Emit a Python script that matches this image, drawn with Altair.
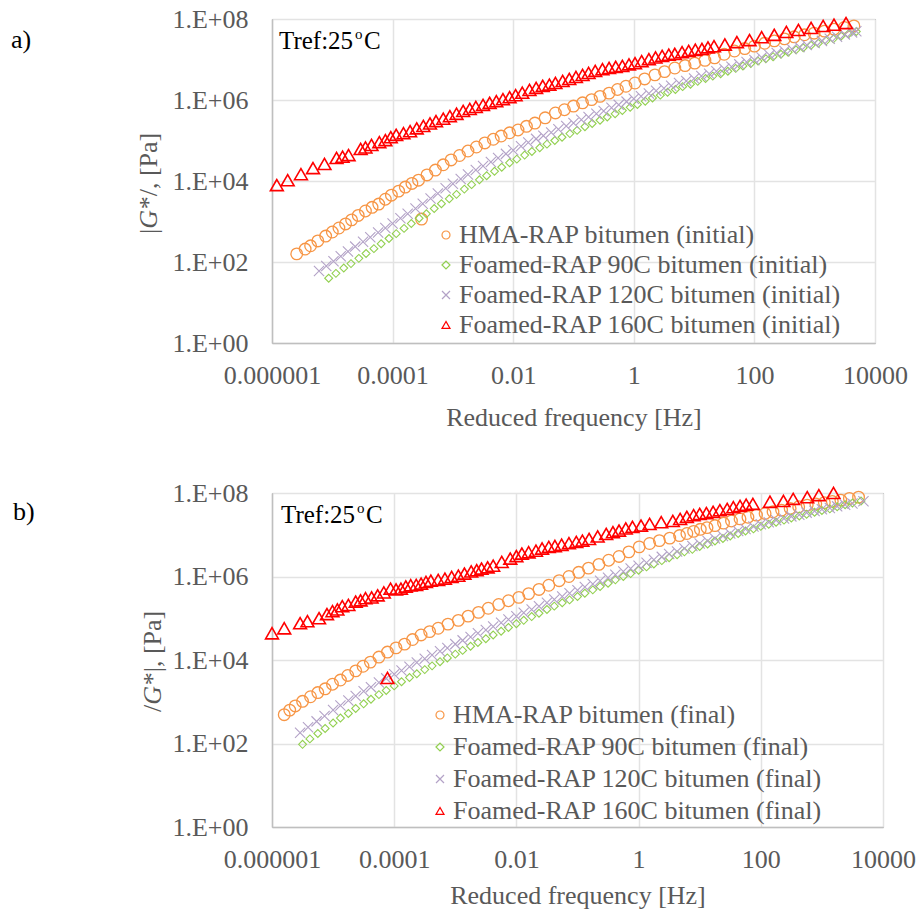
import altair as alt
import pandas as pd
import numpy as np

FONT = "Liberation Serif"
GREY = "#595959"

# ---------------- values (log10 units) ----------------
# panel a) initial
a_hma_logf = [-5.59,-5.45,-5.36,-5.24,-5.11,-5.00,-4.89,-4.78,-4.68,-4.57,-4.45,-4.34,-4.23,-4.12,-4.02,-3.90,-3.79,-3.68,-3.57,-3.43,
              -3.29,-3.16,-3.03,-2.89,-2.75,-2.61,-2.47,-2.33,-2.20,-2.06,-1.92,-1.78,-1.64,-1.47,-1.30,-1.15,-1.00,-0.85,-0.70,-0.56,
              -0.41,-0.27,-0.13,0.02,0.18,0.35,0.51,0.68,0.85,1.01,1.18,1.34,1.50,1.67,1.84,2.00,2.17,2.33,2.50,2.66,
              2.83,2.99,3.16,3.32,3.49,3.65,-3.52]
a_hma_logG = [2.20,2.32,2.40,2.52,2.64,2.74,2.84,2.94,3.04,3.15,3.26,3.35,3.43,3.55,3.65,3.75,3.85,3.94,4.02,4.15,
              4.27,4.40,4.52,4.63,4.74,4.84,4.94,5.03,5.11,5.19,5.26,5.35,5.43,5.56,5.68,5.76,5.85,5.93,6.01,6.09,
              6.17,6.26,6.34,6.42,6.52,6.62,6.70,6.79,6.85,6.91,6.98,7.04,7.13,7.21,7.27,7.33,7.40,7.46,7.51,7.56,
              7.61,7.65,7.70,7.75,7.79,7.83,3.06]

a_90_logf = [-5.06,-4.94,-4.81,-4.69,-4.56,-4.44,-4.31,-4.19,-4.06,-3.94,-3.81,-3.69,-3.56,-3.44,-3.31,-3.19,-3.06,-2.94,-2.81,-2.69,
             -2.56,-2.44,-2.31,-2.19,-2.06,-1.94,-1.81,-1.69,-1.56,-1.44,-1.31,-1.19,-1.06,-0.94,-0.81,-0.69,-0.56,-0.44,-0.31,-0.19,
             -0.06,0.06,0.19,0.31,0.44,0.56,0.69,0.81,0.94,1.06,1.19,1.31,1.44,1.56,1.69,1.81,1.94,2.06,2.19,2.31,
             2.44,2.56,2.69,2.81,2.94,3.06,3.19,3.31,3.44,3.56,3.69]
a_90_logG = [1.60,1.72,1.85,1.96,2.09,2.21,2.33,2.45,2.58,2.70,2.83,2.95,3.08,3.19,3.32,3.44,3.56,3.67,3.80,3.91,
             4.03,4.13,4.24,4.34,4.45,4.54,4.64,4.73,4.82,4.91,5.00,5.08,5.17,5.25,5.34,5.42,5.50,5.58,5.66,5.74,
             5.82,5.89,5.97,6.05,6.12,6.19,6.26,6.33,6.39,6.46,6.53,6.59,6.65,6.71,6.78,6.84,6.90,6.96,7.02,7.07,
             7.13,7.18,7.24,7.29,7.35,7.40,7.46,7.51,7.58,7.63,7.69]

a_120_logf = [-5.22,-5.10,-4.98,-4.86,-4.74,-4.62,-4.49,-4.37,-4.24,-4.12,-4.00,-3.87,-3.75,-3.62,-3.50,-3.37,-3.25,-3.12,-3.00,-2.87,
              -2.75,-2.62,-2.50,-2.37,-2.25,-2.12,-2.00,-1.87,-1.75,-1.62,-1.50,-1.37,-1.25,-1.12,-1.00,-0.87,-0.75,-0.62,-0.50,-0.37,
              -0.25,-0.12,0.00,0.12,0.25,0.37,0.50,0.62,0.75,0.87,1.00,1.12,1.25,1.37,1.50,1.62,1.75,1.87,2.00,2.12,
              2.25,2.37,2.50,2.62,2.75,2.87,3.00,3.12,3.25,3.37,3.50,3.62,3.69]
a_120_logG = [1.78,1.90,2.02,2.14,2.26,2.38,2.50,2.61,2.73,2.84,2.95,3.08,3.19,3.32,3.44,3.57,3.69,3.82,3.93,4.05,
              4.16,4.27,4.37,4.47,4.57,4.67,4.76,4.86,4.95,5.04,5.12,5.20,5.28,5.36,5.43,5.51,5.58,5.66,5.73,5.81,
              5.88,5.96,6.03,6.09,6.16,6.23,6.29,6.35,6.42,6.47,6.53,6.59,6.65,6.71,6.77,6.82,6.88,6.94,6.99,7.05,
              7.11,7.16,7.21,7.26,7.31,7.36,7.41,7.46,7.51,7.56,7.62,7.67,7.70]

a_160_logf = [-5.92,-5.74,-5.52,-5.32,-5.13,-4.93,-4.83,-4.73,-4.53,-4.45,-4.35,-4.22,-4.12,-4.03,-3.94,-3.82,-3.71,-3.60,-3.49,-3.38,
              -3.28,-3.16,-3.05,-2.94,-2.83,-2.72,-2.62,-2.50,-2.39,-2.28,-2.17,-2.06,-1.96,-1.85,-1.73,-1.62,-1.51,-1.40,-1.30,-1.18,
              -1.07,-0.96,-0.85,-0.75,-0.64,-0.52,-0.41,-0.30,-0.19,-0.08,0.02,0.13,0.25,0.36,0.47,0.58,0.68,0.80,0.91,1.02,
              1.13,1.23,1.33,1.51,1.71,1.92,2.12,2.33,2.53,2.73,2.94,3.14,3.32,3.52]
a_160_logG = [3.90,4.02,4.17,4.32,4.42,4.57,4.60,4.64,4.79,4.83,4.89,4.96,5.01,5.08,5.14,5.18,5.23,5.30,5.36,5.42,
              5.48,5.54,5.60,5.66,5.73,5.78,5.83,5.88,5.93,5.97,6.02,6.07,6.12,6.18,6.25,6.30,6.35,6.38,6.42,6.47,
              6.52,6.57,6.62,6.67,6.72,6.76,6.79,6.82,6.84,6.88,6.91,6.96,7.01,7.05,7.09,7.12,7.14,7.18,7.21,7.24,
              7.26,7.30,7.33,7.37,7.43,7.48,7.55,7.61,7.68,7.73,7.78,7.83,7.86,7.90]

# panel b) final
b_hma_logf = [-5.80,-5.71,-5.62,-5.50,-5.37,-5.25,-5.13,-5.01,-4.88,-4.76,-4.63,-4.51,-4.39,-4.25,-4.11,-3.97,-3.83,-3.70,-3.56,-3.42,
              -3.28,-3.12,-2.95,-2.79,-2.62,-2.46,-2.29,-2.13,-1.96,-1.80,-1.63,-1.47,-1.30,-1.14,-0.98,-0.82,-0.65,-0.49,-0.32,-0.16,
              0.01,0.18,0.34,0.51,0.67,0.79,0.90,1.01,1.12,1.25,1.39,1.52,1.66,1.79,1.93,2.07,2.20,2.34,2.48,2.62,
              2.76,2.90,3.04,3.17,3.31,3.45,3.60]
b_hma_logG = [2.69,2.80,2.90,3.01,3.12,3.22,3.31,3.42,3.52,3.63,3.74,3.85,3.95,4.07,4.19,4.29,4.38,4.49,4.60,4.68,
              4.76,4.86,4.95,5.05,5.14,5.24,5.33,5.42,5.50,5.59,5.69,5.79,5.90,6.00,6.10,6.20,6.29,6.39,6.48,6.59,
              6.71,6.79,6.86,6.92,6.98,7.03,7.08,7.13,7.17,7.22,7.28,7.33,7.38,7.42,7.47,7.51,7.55,7.59,7.63,7.67,
              7.71,7.74,7.77,7.80,7.83,7.87,7.90]

b_90_logf = [-5.50,-5.38,-5.25,-5.13,-5.00,-4.88,-4.75,-4.63,-4.50,-4.38,-4.25,-4.13,-4.00,-3.88,-3.75,-3.63,-3.50,-3.38,-3.25,-3.13,
             -3.00,-2.88,-2.75,-2.63,-2.50,-2.38,-2.25,-2.13,-2.00,-1.88,-1.75,-1.63,-1.50,-1.38,-1.25,-1.13,-1.00,-0.88,-0.75,-0.63,
             -0.50,-0.38,-0.25,-0.13,0.00,0.13,0.25,0.38,0.50,0.63,0.75,0.88,1.00,1.13,1.25,1.38,1.50,1.63,1.75,1.88,
             2.00,2.13,2.25,2.38,2.50,2.63,2.75,2.88,3.00,3.13,3.25,3.38,3.50,3.64]
b_90_logG = [1.98,2.11,2.24,2.36,2.49,2.61,2.72,2.84,2.95,3.06,3.17,3.27,3.38,3.48,3.58,3.67,3.77,3.86,3.96,4.05,
             4.14,4.23,4.33,4.42,4.51,4.60,4.69,4.78,4.87,4.95,5.04,5.12,5.21,5.29,5.37,5.44,5.52,5.60,5.68,5.76,
             5.84,5.92,6.00,6.07,6.15,6.23,6.30,6.38,6.45,6.52,6.59,6.65,6.72,6.78,6.85,6.91,6.97,7.03,7.09,7.14,
             7.20,7.25,7.30,7.35,7.40,7.45,7.49,7.54,7.58,7.62,7.67,7.72,7.76,7.81]

b_120_logf = [-5.54,-5.41,-5.27,-5.14,-5.00,-4.88,-4.75,-4.63,-4.50,-4.38,-4.25,-4.13,-4.00,-3.88,-3.75,-3.63,-3.50,-3.38,-3.25,-3.13,
              -3.00,-2.88,-2.75,-2.63,-2.50,-2.38,-2.25,-2.13,-2.00,-1.88,-1.75,-1.63,-1.50,-1.38,-1.25,-1.13,-1.00,-0.88,-0.75,-0.63,
              -0.50,-0.38,-0.25,-0.13,0.00,0.13,0.25,0.38,0.50,0.63,0.75,0.88,1.00,1.13,1.25,1.38,1.50,1.63,1.75,1.88,
              2.00,2.13,2.25,2.38,2.50,2.63,2.75,2.88,3.00,3.13,3.25,3.38,3.50,3.68]
b_120_logG = [2.26,2.39,2.53,2.66,2.80,2.91,3.03,3.14,3.25,3.35,3.46,3.56,3.66,3.75,3.84,3.94,4.03,4.12,4.21,4.29,
              4.38,4.47,4.55,4.64,4.72,4.80,4.89,4.97,5.05,5.13,5.21,5.29,5.37,5.45,5.52,5.60,5.67,5.75,5.82,5.90,
              5.97,6.04,6.12,6.19,6.26,6.33,6.40,6.47,6.54,6.60,6.67,6.73,6.79,6.85,6.91,6.97,7.03,7.09,7.14,7.20,
              7.25,7.30,7.35,7.39,7.44,7.48,7.53,7.57,7.61,7.64,7.68,7.72,7.75,7.80]

b_160_logf = [-6.00,-5.80,-5.54,-5.42,-5.23,-5.10,-5.01,-4.93,-4.85,-4.75,-4.63,-4.55,-4.47,-4.37,-4.27,-4.17,-4.06,-3.97,-3.89,-3.81,
              -3.73,-3.64,-3.56,-3.48,-3.40,-3.28,-3.17,-3.06,-2.95,-2.85,-2.74,-2.65,-2.57,-2.47,-2.38,-2.24,-2.10,-2.00,-1.91,-1.80,
              -1.68,-1.58,-1.47,-1.37,-1.26,-1.14,-1.02,-0.92,-0.81,-0.67,-0.53,-0.42,-0.32,-0.21,-0.10,0.04,0.18,0.37,0.56,0.68,
              0.79,0.90,1.00,1.11,1.22,1.33,1.45,1.55,1.66,1.76,1.87,2.15,2.37,2.53,2.76,2.95,3.19,-4.11]
b_160_logG = [4.64,4.76,4.88,4.93,5.00,5.10,5.17,5.21,5.29,5.32,5.40,5.43,5.48,5.50,5.55,5.62,5.71,5.69,5.71,5.76,
              5.79,5.80,5.83,5.87,5.90,5.92,5.95,5.99,6.02,6.07,6.12,6.15,6.19,6.22,6.26,6.35,6.43,6.49,6.55,6.58,
              6.62,6.67,6.71,6.73,6.76,6.80,6.83,6.86,6.90,6.96,7.02,7.06,7.10,7.15,7.19,7.22,7.26,7.30,7.33,7.38,
              7.43,7.47,7.50,7.52,7.55,7.59,7.62,7.66,7.69,7.72,7.74,7.79,7.81,7.86,7.90,7.95,8.00,3.57]

series_a = ["HMA-RAP bitumen (initial)", "Foamed-RAP 90C bitumen (initial)",
            "Foamed-RAP 120C bitumen (initial)", "Foamed-RAP 160C bitumen (initial)"]
series_b = ["HMA-RAP bitumen (final)", "Foamed-RAP 90C bitumen (final)",
            "Foamed-RAP 120C bitumen (final)", "Foamed-RAP 160C bitumen (final)"]
colors = ["#F79646", "#92D050", "#B3A2C7", "#FF0000"]
shapes = ["circle", "diamond", "M-1,-1L1,1M-1,1L1,-1", "triangle-up"]
sizes = [135, 62, 105, 165]
strokes = [1.3, 1.1, 1.1, 1.6]

x_ticks = [1e-6, 1e-4, 1e-2, 1, 100, 1e4]
y_ticks = [1, 1e2, 1e4, 1e6, 1e8]

# y-axis title pieces (plain, italic, plain)
title_a = ["|", "G", "*/, [Pa]"]
title_b = ["/", "G", "*|, [Pa]"]


def build(name, lf, lg):
    rows = [{"series": name, "f": 10 ** a, "G": 10 ** b} for a, b in zip(lf, lg)]
    return pd.DataFrame(rows)


data_a = [build(series_a[0], a_hma_logf, a_hma_logG), build(series_a[1], a_90_logf, a_90_logG),
          build(series_a[2], a_120_logf, a_120_logG), build(series_a[3], a_160_logf, a_160_logG)]
data_b = [build(series_b[0], b_hma_logf, b_hma_logG), build(series_b[1], b_90_logf, b_90_logG),
          build(series_b[2], b_120_logf, b_120_logG), build(series_b[3], b_160_logf, b_160_logG)]


def text(t, x, y, size=26, color="black", angle=0, style="normal", baseline="alphabetic"):
    return alt.Chart(pd.DataFrame({"t": [t]})).mark_text(
        align="left", baseline=baseline, font=FONT, fontSize=size, color=color,
        angle=angle, fontStyle=style
    ).encode(text="t:N", x=alt.value(x), y=alt.value(y))


def y_title(pieces, x, y_bottom):
    # rotated title, written bottom-to-top, middle piece in italic
    w0 = 5.2 if pieces[0] == "|" else 7.2
    return [
        text(pieces[0], x, y_bottom, color=GREY, angle=270, baseline="middle"),
        text(pieces[1], x, y_bottom - w0, color=GREY, angle=270, style="italic", baseline="middle"),
        text(pieces[2], x, y_bottom - w0 - 19.5, color=GREY, angle=270, baseline="middle"),
    ]


def panel(datas, names, title_pieces, title_x, title_yb, tag, tag_x, tag_y, tref_x,
          leg_x, leg_y, row_pad, lab_pad, title_pad, w, h):
    legend = alt.Legend(title=None, orient="none", legendX=leg_x, legendY=leg_y,
                        labelFont=FONT, labelFontSize=26, labelColor=GREY,
                        symbolSize=64, symbolStrokeWidth=1.2, rowPadding=row_pad,
                        labelOffset=0, padding=0, labelLimit=600)
    x_enc = alt.X("f:Q", scale=alt.Scale(type="log", domain=[1e-6, 1e4], nice=False),
                  axis=alt.Axis(values=x_ticks, labelExpr="format(datum.value, '.6~f')",
                                title="Reduced frequency [Hz]", labelFont=FONT, labelFontSize=26,
                                labelColor=GREY, titleFont=FONT, titleFontSize=26, titleColor=GREY,
                                titleFontWeight="normal", ticks=False, labelPadding=lab_pad,
                                titlePadding=title_pad, labelFlush=False, labelOverlap=False,
                                domainColor="#BFBFBF", domainWidth=1.5,
                                gridColor="#E3E3E3", gridWidth=1.5))
    y_enc = alt.Y("G:Q", scale=alt.Scale(type="log", domain=[1, 1e8], nice=False),
                  axis=alt.Axis(values=y_ticks,
                                labelExpr="'1.E+0' + format(log(datum.value)/LN10, '.0f')",
                                title=None, labelFont=FONT, labelFontSize=26, labelColor=GREY,
                                ticks=False, labelPadding=24,
                                labelFlush=False, labelOverlap=False,
                                domainColor="#BFBFBF", domainWidth=1.5,
                                gridColor="#E3E3E3", gridWidth=1.5))
    color = alt.Color("series:N", scale=alt.Scale(domain=names, range=colors), legend=legend)
    shape = alt.Shape("series:N", scale=alt.Scale(domain=names, range=shapes), legend=legend)
    layers = []
    for i, d in enumerate(datas):
        layers.append(
            alt.Chart(d).mark_point(filled=False, opacity=1, size=sizes[i], strokeWidth=strokes[i])
            .encode(x=x_enc, y=y_enc, color=color, shape=shape)
        )
    layers += [
        text("Tref:25", tref_x, 30, size=25),
        text("o", tref_x + 76, 20, size=15),
        text("C", tref_x + 85, 30, size=25),
        text(tag, tag_x, tag_y, size=26),
    ]
    layers += y_title(title_pieces, title_x, title_yb)
    return alt.layer(*layers).properties(width=w, height=h)


top = panel(data_a, series_a, title_a, -123, 215, "a)", -261, 29, 7,
            161, 203, 4, 19, 16, 603, 324)
bottom = panel(data_b, series_b, title_b, -119, 219, "b)", -259, 27, 9,
               155, 209, 6, 19, 10, 611, 334)

chart = alt.concat(top, bottom, columns=1, spacing=48).resolve_scale(
    color="independent", shape="independent"
).resolve_legend(color="independent", shape="independent").properties(
    padding={"left": 10, "top": 5, "right": 0, "bottom": 0}
).configure_view(stroke="#595959", strokeWidth=1)

chart.save("out.html", embed_options={"renderer": "svg", "actions": False})
